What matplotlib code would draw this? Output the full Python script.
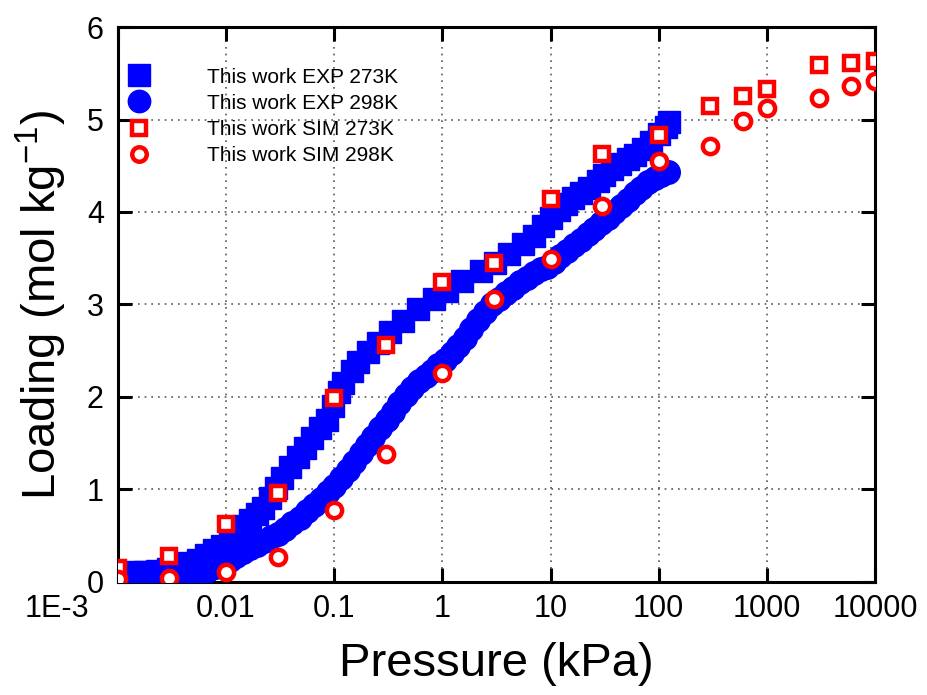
import matplotlib
matplotlib.use("Agg")
import matplotlib.pyplot as plt
from matplotlib.ticker import FixedLocator, FixedFormatter, NullLocator
from matplotlib.transforms import ScaledTranslation

plt.rcParams['font.family'] = ['Liberation Sans', 'DejaVu Sans']
plt.rcParams['mathtext.fontset'] = 'custom'
plt.rcParams['mathtext.rm'] = 'Liberation Sans'
plt.rcParams['mathtext.it'] = 'Liberation Sans'

# ---------------- data ----------------
exp273_p = [0.0014, 0.0018, 0.0023, 0.0029, 0.0036, 0.0045, 0.0055, 0.0066, 0.0078, 0.0092,
            0.0108, 0.0126, 0.0146, 0.0168, 0.0192, 0.022, 0.0255, 0.029, 0.033, 0.039,
            0.046, 0.054, 0.063, 0.074, 0.086, 0.098, 0.11, 0.121, 0.147, 0.167,
            0.207, 0.255, 0.33, 0.43, 0.59, 0.83, 1.1, 1.53, 2.27, 3.1,
            4.1, 5.6, 7.0, 8.5, 10, 12, 14, 16, 19, 22.6,
            27.5, 31, 37, 44, 52, 60, 71, 84, 100, 117, 125]
exp273_q = [0.10, 0.11, 0.12, 0.14, 0.16, 0.20, 0.24, 0.29, 0.34, 0.39,
            0.45, 0.52, 0.60, 0.67, 0.73, 0.80, 0.91, 1.01, 1.12, 1.24,
            1.35, 1.45, 1.55, 1.66, 1.75, 1.90, 2.05, 2.15, 2.28, 2.38,
            2.48, 2.58, 2.70, 2.82, 2.95, 3.06, 3.15, 3.25, 3.36, 3.45,
            3.55, 3.65, 3.74, 3.85, 3.93, 4.02, 4.09, 4.15, 4.20, 4.26,
            4.33, 4.40, 4.46, 4.52, 4.57, 4.62, 4.68, 4.76, 4.84, 4.92, 4.97]

exp298_p = [0.0014, 0.0020, 0.0028, 0.0040, 0.0055, 0.0068, 0.0080, 0.0093, 0.0108, 0.0125,
            0.0145, 0.0168, 0.0195, 0.0225, 0.026, 0.030, 0.035, 0.041, 0.048, 0.056,
            0.065, 0.076, 0.088, 0.10, 0.115, 0.133, 0.153, 0.176, 0.20, 0.23,
            0.265, 0.305, 0.35, 0.40, 0.46, 0.53, 0.61, 0.70, 0.80, 0.92,
            1.06, 1.22, 1.40, 1.62, 1.86, 2.15, 2.5, 2.9, 3.35, 3.9,
            4.5, 5.2, 6.0, 7.0, 8.1, 9.3, 10.7, 12.3, 14.2, 16.4,
            19, 22, 25.5, 29.5, 34, 39, 45, 52, 60, 69,
            80, 92, 106, 122]
exp298_q = [0.06, 0.06, 0.07, 0.08, 0.10, 0.13, 0.16, 0.20, 0.24, 0.28,
            0.32, 0.36, 0.40, 0.44, 0.48, 0.52, 0.57, 0.63, 0.69, 0.76,
            0.83, 0.90, 0.97, 1.04, 1.12, 1.21, 1.30, 1.39, 1.48, 1.57,
            1.66, 1.75, 1.84, 1.93, 2.02, 2.10, 2.17, 2.23, 2.28, 2.34,
            2.40, 2.47, 2.55, 2.64, 2.73, 2.83, 2.92, 3.00, 3.06, 3.12,
            3.18, 3.24, 3.29, 3.34, 3.38, 3.41, 3.46, 3.52, 3.58, 3.64,
            3.70, 3.76, 3.82, 3.88, 3.94, 4.00, 4.06, 4.13, 4.20, 4.26,
            4.32, 4.37, 4.40, 4.43]

sim_p = [0.001, 0.003, 0.01, 0.03, 0.1, 0.3, 1, 3, 10, 30, 100, 300, 600, 1000, 3000, 6000, 10000]
sim273_q = [0.15, 0.28, 0.62, 0.96, 1.99, 2.56, 3.24, 3.45, 4.14, 4.63, 4.83, 5.15, 5.25, 5.33, 5.59, 5.61, 5.63]
sim298_q = [0.03, 0.04, 0.10, 0.27, 0.78, 1.38, 2.26, 3.06, 3.49, 4.06, 4.55, 4.71, 4.98, 5.12, 5.23, 5.36, 5.42]

xtick_vals = [1e-3, 1e-2, 1e-1, 1, 10, 100, 1000, 10000]
xtick_labels = ["1E-3", "0.01", "0.1", "1", "10", "100", "1000", "10000"]
ytick_vals = [0, 1, 2, 3, 4, 5, 6]

labels = ["This work EXP 273K", "This work EXP 298K", "This work SIM 273K", "This work SIM 298K"]

# ---------------- figure ----------------
fig = plt.figure(figsize=(9.27, 6.95), dpi=100)
ax = fig.add_axes([0.127, 0.163, 0.817, 0.798])

blue = '#0000FF'
red = '#FF0000'
ax.plot(exp273_p, exp273_q, linestyle='none', marker='s', ms=16, color=blue, mec=blue,
        label=labels[0], zorder=3)
ax.plot(exp298_p, exp298_q, linestyle='none', marker='o', ms=17, color=blue, mec=blue,
        label=labels[1], zorder=3)
ax.plot(sim_p, sim273_q, linestyle='none', marker='s', ms=10, mfc='white', mec=red, mew=3.2,
        label=labels[2], zorder=4)
ax.plot(sim_p, sim298_q, linestyle='none', marker='o', ms=11, mfc='white', mec=red, mew=3.2,
        label=labels[3], zorder=4)

ax.set_xscale('log')
ax.set_xlim(1e-3, 1e4)
ax.set_ylim(0, 6)
ax.xaxis.set_major_locator(FixedLocator(xtick_vals))
ax.xaxis.set_major_formatter(FixedFormatter(xtick_labels))
ax.xaxis.set_minor_locator(NullLocator())
ax.set_yticks(ytick_vals)
ax.set_yticklabels([str(v) for v in ytick_vals])

ax.grid(True, which='major', linestyle=(0, (1, 3)), color='#555555', linewidth=1.2)
ax.tick_params(which='major', direction='in', length=10, width=2.2, labelsize=22,
               top=True, right=True)
ax.tick_params(axis='x', pad=9)
ax.tick_params(axis='y', pad=10)
for s in ax.spines.values():
    s.set_linewidth(2.2)

# first x tick label sits left of the y axis (as in the reference)
first = ax.get_xticklabels()[0]
first.set_transform(first.get_transform() + ScaledTranslation(-0.61, 0, fig.dpi_scale_trans))

ax.set_xlabel("Pressure (kPa)", fontsize=34, labelpad=13)
ax.set_ylabel("Loading (mol kg$^{-1}$)", fontsize=34, labelpad=13)

leg = ax.legend(loc='upper left', bbox_to_anchor=(-0.021, 0.972), frameon=False, fontsize=15,
                handlelength=1.2, handletextpad=2.67, labelspacing=0.34, borderaxespad=0.8,
                markerscale=0.95)

fig.savefig("out.png", dpi=100)
